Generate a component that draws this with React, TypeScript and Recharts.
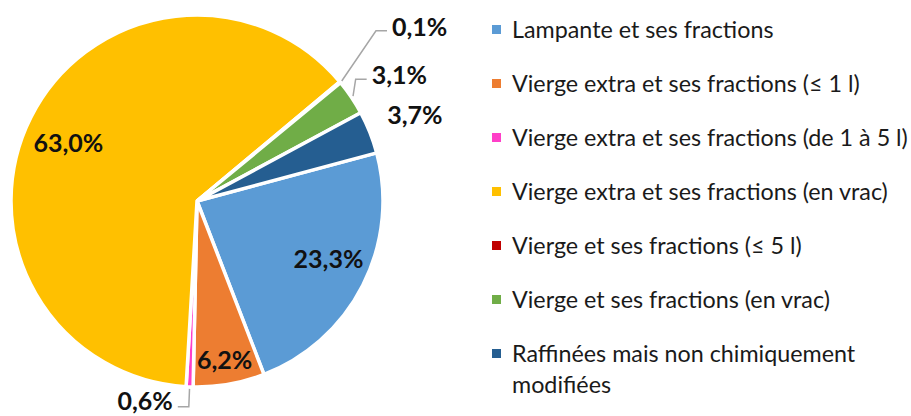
import React from 'react';
import { PieChart, Pie, Cell, Legend } from 'recharts';

const CATEGORIES = [
  'Lampante et ses fractions',
  'Vierge extra et ses fractions (≤ 1 l)',
  'Vierge extra et ses fractions (de 1 à 5 l)',
  'Vierge extra et ses fractions (en vrac)',
  'Vierge et ses fractions (≤ 5 l)',
  'Vierge et ses fractions (en vrac)',
  'Raffinées mais non chimiquement modifiées',
];
const SHARES = [23.3, 6.2, 0.6, 63.0, 0.1, 3.1, 3.7];
const COLORS = ['#5B9BD5', '#ED7D31', '#FF3FC8', '#FFC000', '#C00000', '#70AD47', '#255E91'];

// label placement hints (styling only)
const LABEL_LAYOUT: any[] = [
  { r: 0.77, dAng: 3.6 },
  { r: 0.86, dAng: 0 },
  { leader: { r2: 206, dAng: 0, dir: -1, dy: -7 } },
  { r: 0.76, dAng: 2.2 },
  { leader: { r2: 247, dAng: 3.9, dir: 1, dy: -5 } },
  { leader: { r2: 200, dAng: 3.6, dir: 1, dy: -5 } },
  { r: 1.26, dAng: 0 },
];

const data = CATEGORIES.map((name, i) => ({ name, value: SHARES[i] }));
const fmt = (v: number) => v.toFixed(1).replace('.', ',') + '%';

const RAD = Math.PI / 180;
const polar = (cx: number, cy: number, r: number, a: number) => ({
  x: cx + r * Math.cos(-a * RAD),
  y: cy + r * Math.sin(-a * RAD),
});

const FONT = 'Lato, "Open Sans", sans-serif';

const renderLabel = (props: any) => {
  const { cx, cy, midAngle, outerRadius, index } = props;
  const lay = LABEL_LAYOUT[index];
  const text = fmt(SHARES[index]);
  const common = {
    fontFamily: FONT,
    fontWeight: 700,
    fontSize: 25,
    fill: '#111',
  };
  if (lay.leader) {
    const s = polar(cx, cy, outerRadius + 2, midAngle);
    const e = polar(cx, cy, lay.leader.r2, midAngle + lay.leader.dAng);
    const h = { x: e.x + lay.leader.dir * 11, y: e.y };
    return (
      <g key={`lab-${index}`}>
        <polyline
          points={`${s.x},${s.y} ${e.x},${e.y} ${h.x},${h.y}`}
          fill="none"
          stroke="#A6A6A6"
          strokeWidth={1.5}
        />
        <text
          x={h.x + lay.leader.dir * 5}
          y={h.y + lay.leader.dy}
          textAnchor={lay.leader.dir > 0 ? 'start' : 'end'}
          dominantBaseline="central"
          {...common}
        >
          {text}
        </text>
      </g>
    );
  }
  const p = polar(cx, cy, outerRadius * lay.r, midAngle + lay.dAng);
  return (
    <text
      key={`lab-${index}`}
      x={p.x}
      y={p.y}
      textAnchor="middle"
      dominantBaseline="central"
      {...common}
    >
      {text}
    </text>
  );
};

const renderLegend = () => (
  <div style={{ fontFamily: FONT, fontSize: 23.3, color: '#1a1a1a' }}>
    {CATEGORIES.map((c, i) => (
      <div
        key={c}
        style={{ display: 'flex', alignItems: 'flex-start', height: 54, lineHeight: '31px' }}
      >
        <div
          style={{
            width: 9,
            height: 9,
            background: COLORS[i],
            marginTop: 11,
            marginRight: 11,
            flex: '0 0 auto',
          }}
        />
        <div style={{ width: 399 }}>{c}</div>
      </div>
    ))}
  </div>
);

export default function App() {
  return (
    <div style={{ position: 'absolute', left: 0, top: 0, background: '#fff' }}>
      <PieChart width={911} height={416} margin={{ top: 0, right: 0, bottom: 0, left: 0 }}>
        <Pie
          data={data}
          dataKey="value"
          nameKey="name"
          cx={197}
          cy={201}
          outerRadius={186}
          startAngle={15}
          endAngle={-345}
          stroke="#fff"
          strokeWidth={3.5}
          label={renderLabel}
          labelLine={false}
          isAnimationActive={false}
        >
          {data.map((d, i) => (
            <Cell key={d.name} fill={COLORS[i]} />
          ))}
        </Pie>
        <Legend
          layout="vertical"
          align="right"
          verticalAlign="top"
          content={renderLegend}
          wrapperStyle={{ left: 492, top: 14, width: 419, right: 'auto' }}
        />
      </PieChart>
    </div>
  );
}
